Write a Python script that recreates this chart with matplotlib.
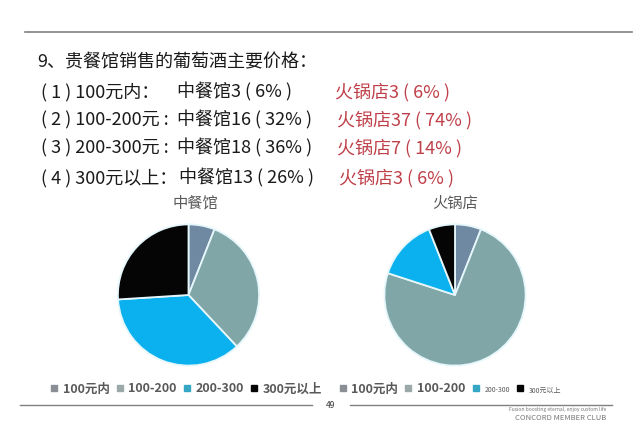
import matplotlib
matplotlib.use("Agg")
import matplotlib.pyplot as plt
from matplotlib.lines import Line2D

plt.rcParams['font.family'] = ['Noto Sans CJK SC', 'DejaVu Sans']

W, H = 640, 443

# ---- data ----
categories = ["100元内", "100-200", "200-300", "300元以上"]
zhongcan_counts = [3, 16, 18, 13]
zhongcan_pct = [6, 32, 36, 26]
huoguo_counts = [3, 37, 7, 3]
huoguo_pct = [6, 74, 14, 6]
row_labels = ["( 1 ) 100元内：", "( 2 ) 100-200元 :", "( 3 ) 200-300元 :", "( 4 ) 300元以上："]
title_text = "9、贵餐馆销售的葡萄酒主要价格："
pie_titles = ["中餐馆", "火锅店"]
page_number = "49"

pie_colors = ["#7089a2", "#80a6a8", "#0bb0ee", "#050505"]
legend_colors = ["#8a8f95", "#9aa8a8", "#35a6c4", "#050505"]

fig = plt.figure(figsize=(W / 100, H / 100), dpi=100)
fig.patch.set_facecolor("white")


def fx(x):
    return x / W


def fy(y):
    return 1 - y / H


# top rule
fig.add_artist(Line2D([fx(25), fx(632)], [fy(32), fy(32)], color="#808080", lw=1.2))

# header text
fig.text(fx(37), fy(62), title_text, fontsize=13, color="#1a1a1a", va="center", ha="left")

row_y = [92, 120, 148, 178]
mid_x = [177, 177, 177, 179]
red_x = [335, 337, 337, 339]
for i in range(4):
    fig.text(fx(41), fy(row_y[i]), row_labels[i], fontsize=13, color="#1a1a1a",
             va="center", ha="left")
    fig.text(fx(mid_x[i]), fy(row_y[i]),
             f"中餐馆{zhongcan_counts[i]} ( {zhongcan_pct[i]}% )",
             fontsize=13, color="#1a1a1a", va="center", ha="left")
    fig.text(fx(red_x[i]), fy(row_y[i]),
             f"火锅店{huoguo_counts[i]} ( {huoguo_pct[i]}% )",
             fontsize=13, color="#c0404a", va="center", ha="left")

# pies
pie_specs = [
    (188.5, 295, 72, zhongcan_counts, 195),
    (455, 295, 72, huoguo_counts, 455),
]
for k, (cx, cy, r, vals, tx) in enumerate(pie_specs):
    ax = fig.add_axes([fx(cx - r), fy(cy + r), 2 * r / W, 2 * r / H])
    ax.pie(vals, colors=pie_colors, startangle=90, counterclock=False,
           radius=1.0, wedgeprops=dict(edgecolor="#e6f7fb", linewidth=1.3))
    ax.set_xlim(-1.02, 1.02)
    ax.set_ylim(-1.02, 1.02)
    ax.set_aspect("auto")
    ax.axis("off")
    fig.text(fx(tx), fy(203), pie_titles[k], fontsize=11, color="#5a5a5a",
             ha="center", va="center", fontweight="normal")

# legends
handles = [Line2D([], [], marker="s", linestyle="none", markersize=5,
                  markerfacecolor=c, markeredgecolor=c) for c in legend_colors]

leg1 = fig.legend(handles, categories, loc="center", ncol=4,
                  bbox_to_anchor=(fx(186), fy(389)), frameon=False,
                  prop=dict(size=9, weight="bold"), handlelength=0.6,
                  handletextpad=0.4, columnspacing=0.5, borderpad=0)
for t in leg1.get_texts():
    t.set_color("#595959")

leg2 = fig.legend(handles, categories, loc="center", ncol=4,
                  bbox_to_anchor=(fx(450), fy(389)), frameon=False,
                  prop=dict(size=9, weight="bold"), handlelength=0.6,
                  handletextpad=0.4, columnspacing=0.5, borderpad=0)
for i, t in enumerate(leg2.get_texts()):
    t.set_color("#595959")
    if i >= 2:
        t.set_fontsize(5)
        t.set_fontweight("normal")

# bottom rules and page number
fig.add_artist(Line2D([fx(20), fx(312)], [fy(405), fy(405)], color="#808080", lw=1.0))
fig.add_artist(Line2D([fx(350), fx(612)], [fy(405), fy(405)], color="#808080", lw=1.0))
fig.text(fx(331), fy(406), page_number, fontsize=6, color="#333333", ha="center", va="center")
fig.text(fx(606), fy(410), "Fusion boosting eternal, enjoy custom life", fontsize=3.6,
         color="#777777", ha="right", va="center")
fig.text(fx(606), fy(418), "CONCORD MEMBER CLUB", fontsize=5.5, color="#777777",
         ha="right", va="center")

fig.savefig("out.png", dpi=100, facecolor="white")
